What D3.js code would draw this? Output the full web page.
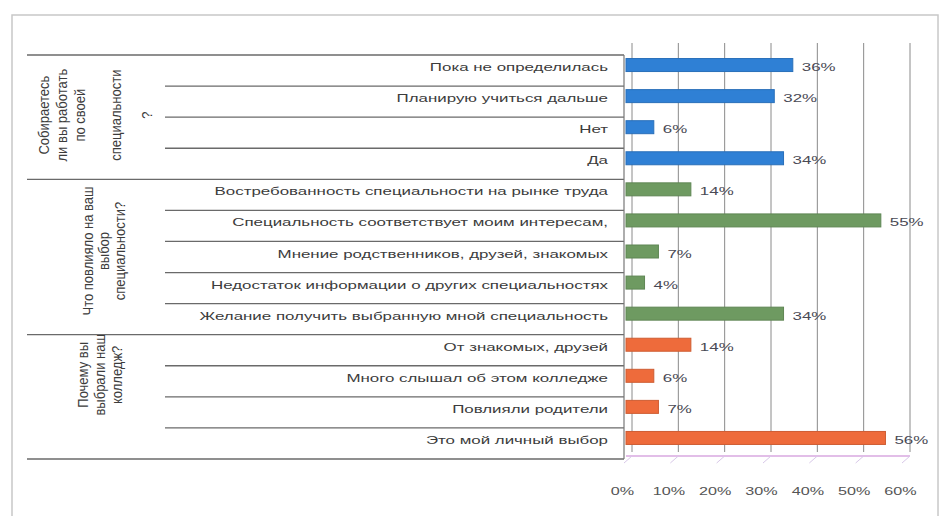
<!DOCTYPE html>
<html><head><meta charset="utf-8">
<script src="https://cdn.jsdelivr.net/npm/d3@7"></script>
<style>
html,body{margin:0;padding:0;background:#fff;}
svg{display:block;font-family:"Liberation Sans","DejaVu Sans",sans-serif;}
</style></head>
<body>
<svg id="c" width="942" height="516"></svg>
<script>
// ---- data ----
const categories = [
  "Пока не определилась",
  "Планирую учиться дальше",
  "Нет",
  "Да",
  "Востребованность специальности на рынке труда",
  "Специальность соответствует моим интересам,",
  "Мнение родственников, друзей, знакомых",
  "Недостаток информации о других специальностях",
  "Желание получить выбранную мной специальность",
  "От знакомых, друзей",
  "Много слышал об этом колледже",
  "Повлияли родители",
  "Это мой личный выбор"
];
const values = [36, 32, 6, 34, 14, 55, 7, 4, 34, 14, 6, 7, 56];
const groupOf = [0,0,0,0,1,1,1,1,1,2,2,2,2];
const groupLines = [
  ["Собираетесь", "ли вы работать", "по своей", "", "специальности", "", "?"],
  ["Что повлияло на ваш", "выбор", "специальности?"],
  ["Почему вы", "выбрали наш", "колледж?"]
];
const tickValues = [0, 10, 20, 30, 40, 50, 60];
const groupColors = ["#2f80d5", "#6e9a61", "#ee6b3b"];

// ---- layout ----
const svg = d3.select("#c");
const STRETCH = 1.47;
const ROT_STRETCH = 1.12;
const tableLeft = 27, innerLeft = 165, axisX = 624;
const y = d3.scaleBand().domain(categories).range([55, 459]).padding(0);
const x = d3.scaleLinear().domain([0, 60]).range([626, 904]);
const depth = 6;
const textColor = "#3c3c3c";

// outer frame
svg.append("rect").attr("x", 12).attr("y", 15).attr("width", 926).attr("height", 510)
  .attr("fill", "none").attr("stroke", "#c8c8c8").attr("stroke-width", 1.5);

// gridlines (back wall)
svg.append("g").selectAll("line").data(tickValues).join("line")
  .attr("x1", d => x(d) + depth).attr("x2", d => x(d) + depth)
  .attr("y1", 43).attr("y2", 452)
  .attr("stroke", "#8a8a8a").attr("stroke-width", 1);

// floor
svg.append("line").attr("x1", x(0)).attr("x2", x(60) + depth)
  .attr("y1", 456).attr("y2", 456).attr("stroke", "#d8a8e0").attr("stroke-width", 1.5);
svg.append("g").selectAll("line").data(tickValues).join("line")
  .attr("x1", d => x(d) - 2).attr("x2", d => x(d) + depth)
  .attr("y1", 463).attr("y2", 456)
  .attr("stroke", "#d8c8e8").attr("stroke-width", 1);

// table lines
const bounds = categories.map((c, i) => ({i, y: y(c)}));
svg.append("g").selectAll("line").data(bounds.slice(1)).join("line")
  .attr("x1", d => groupOf[d.i] !== groupOf[d.i - 1] ? tableLeft : innerLeft)
  .attr("x2", axisX)
  .attr("y1", d => d.y).attr("y2", d => d.y)
  .attr("stroke", "#6a6a6a").attr("stroke-width", 1.3);
svg.append("line").attr("x1", tableLeft).attr("x2", axisX).attr("y1", y.range()[0]).attr("y2", y.range()[0])
  .attr("stroke", "#6a6a6a").attr("stroke-width", 1.5);
svg.append("line").attr("x1", tableLeft).attr("x2", axisX).attr("y1", y.range()[1]).attr("y2", y.range()[1])
  .attr("stroke", "#6a6a6a").attr("stroke-width", 1.5);
svg.append("line").attr("x1", axisX).attr("x2", axisX).attr("y1", y.range()[0]).attr("y2", y.range()[1])
  .attr("stroke", "#777").attr("stroke-width", 1.2);

// category labels
svg.append("g").selectAll("text").data(categories).join("text")
  .attr("transform", d => `translate(608,${y(d) + y.bandwidth() / 2 + 0.5}) scale(${STRETCH},1)`)
  .attr("text-anchor", "end").attr("font-size", 11.5).attr("fill", textColor)
  .text(d => d);

// group labels (rotated)
const groupSpans = groupLines.map((g, gi) => {
  const idx = categories.map((c, i) => i).filter(i => groupOf[i] === gi);
  return {gi, y0: y(categories[idx[0]]), y1: y(categories[idx[idx.length - 1]]) + y.bandwidth()};
});
const groupX = [[49, 67, 85, 103, 121, 137, 152], [93, 109, 125], [88, 105, 122]];
const groupDy = [-2, -6, -22];
groupSpans.forEach(s => {
  const cy = (s.y0 + s.y1) / 2 + groupDy[s.gi];
  groupLines[s.gi].forEach((line, li) => {
    if (!line) return;
    svg.append("text")
      .attr("transform", `translate(${groupX[s.gi][li]},${cy}) scale(${ROT_STRETCH},1) rotate(-90)`)
      .attr("text-anchor", "middle").attr("font-size", 13).attr("fill", textColor)
      .text(line);
  });
});

// bars
const bh = 13, boff = -5.5;
svg.append("g").selectAll("rect").data(values).join("rect")
  .attr("x", x(0))
  .attr("y", (d, i) => y(categories[i]) + y.bandwidth() / 2 - bh / 2 + boff)
  .attr("width", d => x(d) - x(0))
  .attr("height", bh)
  .attr("fill", (d, i) => groupColors[groupOf[i]])
  .attr("stroke", (d, i) => d3.color(groupColors[groupOf[i]]).darker(0.4))
  .attr("stroke-width", 1);

// value labels
svg.append("g").selectAll("text").data(values).join("text")
  .attr("transform", (d, i) => `translate(${x(d) + 9},${y(categories[i]) + y.bandwidth() / 2 + 0.5}) scale(${STRETCH},1)`)
  .attr("font-size", 11.5).attr("fill", "#4a4a55")
  .text(d => d + "%");

// x axis tick labels
const axis = d3.axisBottom(x).tickValues(tickValues).tickSize(0).tickFormat(d => d + "%");
const ag = svg.append("g").attr("transform", "translate(0,484)").call(axis);
ag.select(".domain").remove();
ag.selectAll("text").attr("font-size", 11).attr("fill", "#555")
  .attr("font-family", "Liberation Sans, DejaVu Sans, sans-serif")
  .attr("transform", `translate(-4,0) scale(${STRETCH},1)`);
</script>
</body></html>
